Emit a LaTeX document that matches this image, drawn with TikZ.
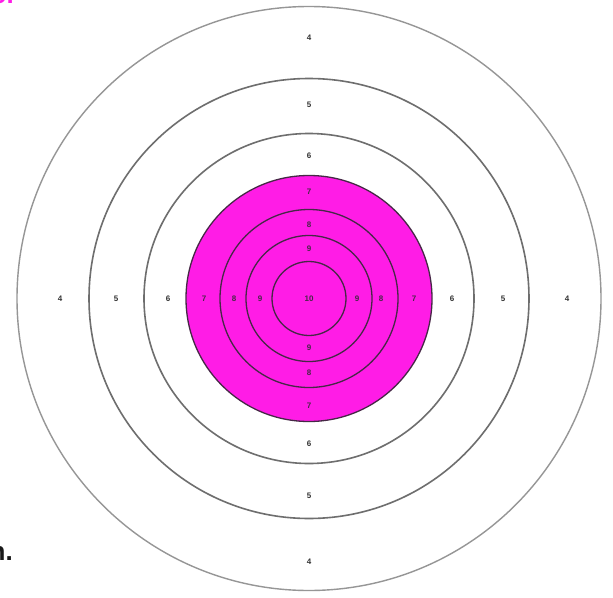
\documentclass[tikz,border=0pt]{standalone}
\usepackage{fontspec}
\setmainfont{Liberation Sans}
\setsansfont{Liberation Sans}
\definecolor{tmag}{RGB}{255,28,230}
\definecolor{ringgray}{RGB}{110,110,110}
\definecolor{ringlight}{RGB}{150,150,150}
\definecolor{innerline}{RGB}{70,40,70}
\definecolor{lblgray}{RGB}{50,50,50}
\tikzset{
  ring/.style={draw=ringgray, line width=1.6pt},
  outerring/.style={draw=ringlight, line width=1.4pt},
  innerring/.style={draw=innerline, line width=1.3pt},
  lbl/.style={font=\fontsize{8}{9}\selectfont\bfseries, text=lblgray, inner sep=0pt},
  inlbl/.style={font=\fontsize{8}{9}\selectfont\bfseries, text=innerline, inner sep=0pt},
}
\begin{document}
\begin{tikzpicture}[x=1pt,y=-1pt]
\clip (0,0) rectangle (613,597);
\fill[white] (0,0) rectangle (613,597);
\coordinate (c) at (309,298.5);
% rings
\draw[outerring] (c) circle[radius=292];
\draw[ring] (c) circle[radius=220];
\draw[ring] (c) circle[radius=165];
\fill[tmag] (c) circle[radius=123];
\draw[innerring] (c) circle[radius=123];
\draw[innerring] (c) circle[radius=89];
\draw[innerring] (c) circle[radius=63];
\draw[innerring] (c) circle[radius=37];
% labels: outer
\node[lbl] (t4) at (309,38) {4};
\node[lbl] (b4) at (309,562) {4};
\node[lbl] (l4) at (60,298.5) {4};
\node[lbl] (r4) at (567,298.5) {4};
\node[lbl] (t5) at (309,105) {5};
\node[lbl] (b5) at (309,496) {5};
\node[lbl] (l5) at (116,298.5) {5};
\node[lbl] (r5) at (503,298.5) {5};
\node[lbl] (t6) at (309,156) {6};
\node[lbl] (b6) at (309,444) {6};
\node[lbl] (l6) at (168,298.5) {6};
\node[lbl] (r6) at (452,298.5) {6};
% labels: inner
\node[inlbl] (t7) at (309,192) {7};
\node[inlbl] (b7) at (309,406) {7};
\node[inlbl] (l7) at (204,298.5) {7};
\node[inlbl] (r7) at (414,298.5) {7};
\node[inlbl] (t8) at (309,225) {8};
\node[inlbl] (b8) at (309,373) {8};
\node[inlbl] (l8) at (234,298.5) {8};
\node[inlbl] (r8) at (381,298.5) {8};
\node[inlbl] (t9) at (309,249) {9};
\node[inlbl] (b9) at (309,348) {9};
\node[inlbl] (l9) at (260,298.5) {9};
\node[inlbl] (r9) at (357,298.5) {9};
\node[inlbl] (ten) at (309,298.5) {10};
% cropped text fragments (cut at the picture edge, as in the reference)
\node[anchor=base east, inner sep=0pt, text=tmag, font=\fontsize{26}{28}\selectfont\bfseries] (frag1) at (17,4) {or};
\node[anchor=base east, inner sep=0pt, text=black!90, font=\fontsize{26}{28}\selectfont\bfseries] (frag2) at (13,560) {n.};
\end{tikzpicture}
\end{document}
